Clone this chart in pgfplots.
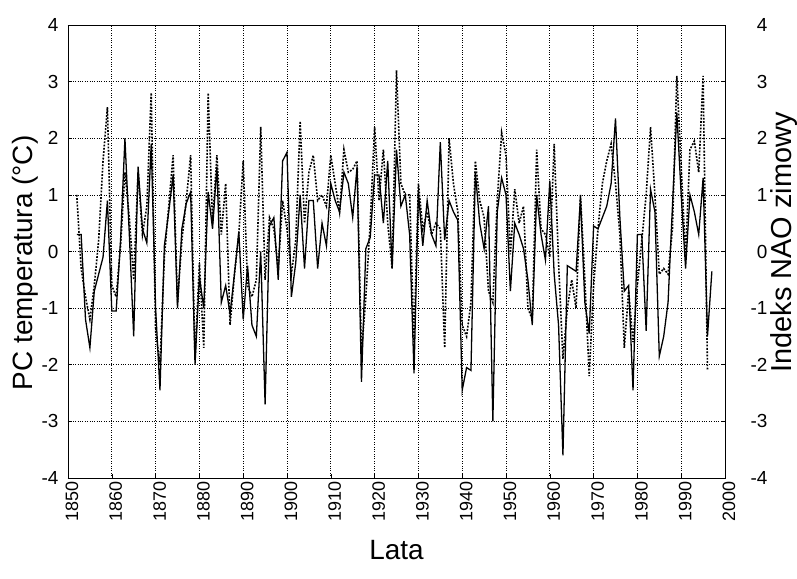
\documentclass[border=0pt]{standalone}
\usepackage{fontspec}
\setmainfont{Liberation Sans}
\usepackage{pgfplots}
\usepackage{pgfplotstable}
\pgfplotsset{compat=1.18}
\pgfplotstableread{
year t
1852 0.3
1853 0.3
1854 -1.2
1855 -1.7
1856 -0.7
1857 -0.4
1858 -0.1
1859 0.9
1860 -1.05
1861 -1.05
1862 0.2
1863 2.0
1864 0.3
1865 -1.5
1866 1.5
1867 0.4
1868 0.15
1869 1.9
1870 -1.0
1871 -2.45
1872 0.1
1873 0.7
1874 1.35
1875 -1.0
1876 0.4
1877 0.85
1878 1.05
1879 -2.0
1880 -0.45
1881 -1.0
1882 1.05
1883 0.4
1884 1.5
1885 -0.9
1886 -0.6
1887 -1.1
1888 -0.4
1889 0.35
1890 -1.2
1891 -0.25
1892 -1.3
1893 -1.5
1894 0.0
1895 -2.7
1896 0.45
1897 0.6
1898 -0.5
1899 1.6
1900 1.75
1901 -0.8
1902 -0.2
1903 1.0
1904 -0.3
1905 0.9
1906 0.9
1907 -0.3
1908 0.5
1909 0.1
1910 1.2
1911 0.9
1912 0.7
1913 1.4
1914 1.2
1915 0.6
1916 1.5
1917 -2.3
1918 0.05
1919 0.25
1920 1.35
1921 1.35
1922 0.5
1923 1.6
1924 -0.3
1925 1.8
1926 0.8
1927 1.0
1928 0.3
1929 -2.15
1930 1.05
1931 0.1
1932 0.9
1933 0.3
1934 0.1
1935 1.93
1936 0.2
1937 0.9
1938 0.7
1939 0.55
1940 -2.45
1941 -2.05
1942 -2.1
1943 1.4
1944 0.5
1945 0.05
1946 0.8
1947 -3.0
1948 0.7
1949 1.3
1950 1.0
1951 -0.7
1952 0.5
1953 0.3
1954 0.05
1955 -0.5
1956 -1.3
1957 1.0
1958 0.3
1959 -0.15
1960 1.25
1961 -0.4
1962 -1.3
1963 -3.6
1964 -0.25
1965 -0.3
1966 -0.35
1967 0.95
1968 -0.9
1969 -1.45
1970 0.45
1971 0.4
1972 0.6
1973 0.8
1974 1.2
1975 2.35
1976 0.6
1977 -0.7
1978 -0.6
1979 -2.45
1980 0.3
1981 0.3
1982 -1.4
1983 1.1
1984 0.7
1985 -1.85
1986 -1.5
1987 -0.9
1988 0.8
1989 2.45
1990 1.0
1991 -0.3
1992 1.0
1993 0.7
1994 0.3
1995 1.3
1996 -1.5
1997 -0.35
}\temp
\pgfplotstableread{
year n
1852 1.0
1853 -0.3
1854 -0.8
1855 -1.2
1856 -0.6
1857 0.2
1858 1.6
1859 2.55
1860 -0.6
1861 -0.8
1862 0.1
1863 1.4
1864 0.6
1865 -0.5
1866 1.4
1867 0.3
1868 0.8
1869 2.8
1870 -1.4
1871 -2.0
1872 -0.1
1873 0.8
1874 1.7
1875 -0.9
1876 0.2
1877 0.9
1878 1.7
1879 -1.9
1880 -0.2
1881 -1.7
1882 2.8
1883 0.5
1884 1.7
1885 0.3
1886 1.2
1887 -1.3
1888 -0.4
1889 0.3
1890 1.6
1891 -0.6
1892 -0.8
1893 -0.5
1894 2.2
1895 -0.5
1896 0.6
1897 0.4
1898 -0.3
1899 0.9
1900 0.4
1901 -0.4
1902 0.2
1903 2.3
1904 0.5
1905 1.4
1906 1.7
1907 0.9
1908 1.0
1909 0.8
1910 1.7
1911 1.2
1912 0.7
1913 1.8
1914 1.4
1915 1.45
1916 1.6
1917 -1.8
1918 -0.8
1919 0.5
1920 2.2
1921 0.9
1922 1.8
1923 0.5
1924 -0.3
1925 3.2
1926 1.2
1927 1.0
1928 1.0
1929 -1.6
1930 1.2
1931 0.4
1932 0.7
1933 0.3
1934 0.5
1935 0.4
1936 -1.7
1937 2.0
1938 1.2
1939 0.7
1940 -1.3
1941 -1.5
1942 -0.9
1943 1.6
1944 0.9
1945 0.6
1946 -0.7
1947 -0.9
1948 0.9
1949 2.1
1950 1.7
1951 -0.05
1952 1.1
1953 0.5
1954 0.8
1955 -1.0
1956 -1.2
1957 1.8
1958 0.4
1959 0.3
1960 -0.1
1961 1.9
1962 -0.2
1963 -1.9
1964 -1.0
1965 -0.5
1966 -1.0
1967 1.0
1968 -0.5
1969 -2.2
1970 -0.6
1971 0.4
1972 1.2
1973 1.6
1974 1.9
1975 1.2
1976 0.3
1977 -1.7
1978 -0.7
1979 -1.6
1980 -0.6
1981 0.2
1982 1.0
1983 2.2
1984 1.0
1985 -0.4
1986 -0.3
1987 -0.4
1988 0.4
1989 3.1
1990 1.5
1991 -0.1
1992 1.8
1993 1.95
1994 1.4
1995 3.1
1996 -2.1
}\nao
\begin{document}
\begin{tikzpicture}
\path[use as bounding box] (-68bp,-101bp) rectangle (729bp,478bp);
\pgfplotsset{every axis/.append style={/pgf/number format/assume math mode=true}}
\begin{axis}[
  at={(0,0)}, anchor=south west,
  scale only axis, width=657bp, height=453bp,
  xmin=1850, xmax=2000, ymin=-4, ymax=4,
  xtick={1850,1860,...,2000}, ytick={-4,-3,...,4},
  xtick pos=bottom, ytick pos=left,
  /pgf/number format/1000 sep={},
  xticklabel style={rotate=90, anchor=east, font=\fontsize{18}{18}\selectfont, yshift=-4bp},
  yticklabel style={font=\fontsize{19}{19}\selectfont, xshift=-6bp},
  grid=major, grid style={dotted, black, line width=0.7pt},
  axis line style={line width=0.8pt},
  tick style={black, line width=0.6pt},
  xlabel={Lata}, ylabel={PC temperatura (\textdegree C)},
  xlabel style={at={(axis description cs:0.5,-0.159)}, anchor=center, font=\fontsize{28}{28}\selectfont},
  ylabel style={at={(axis description cs:-0.0654,0.475)}, anchor=center, font=\fontsize{28}{28}\selectfont},
]
\addplot[black, line width=1.6pt, dash pattern=on 1.8pt off 1.5pt] table[x=year, y=n] {\nao};
\addplot[black, line width=1.3pt] table[x=year, y=t] {\temp};
\end{axis}
\begin{axis}[
  at={(0,0)}, anchor=south west,
  scale only axis, width=657bp, height=453bp,
  xmin=1850, xmax=2000, ymin=-4, ymax=4,
  axis x line=none, axis y line*=right,
  ytick={-4,-3,...,4},
  axis line style={line width=0.8pt},
  tick style={black, line width=0.6pt},
  yticklabel style={font=\fontsize{19}{19}\selectfont, anchor=east, xshift=46bp},
  ylabel={Indeks NAO zimowy},
  ylabel style={at={(axis description cs:1.09,0.52)}, anchor=center, font=\fontsize{29}{29}\selectfont},
]
\end{axis}
\end{tikzpicture}
\end{document}
